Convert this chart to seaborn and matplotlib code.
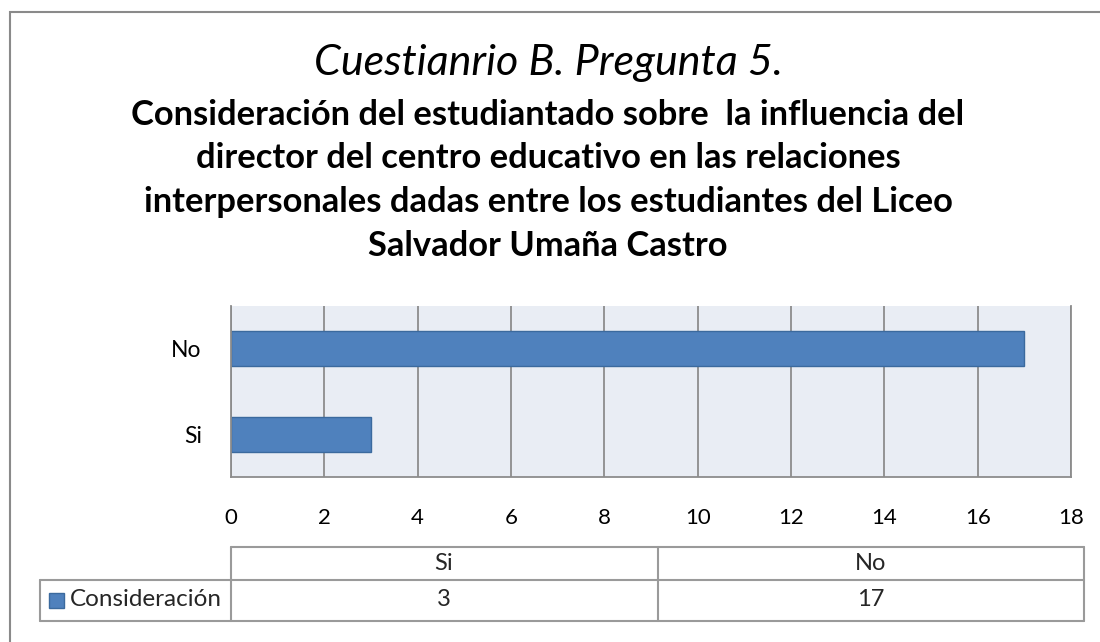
import matplotlib
matplotlib.use("Agg")
import matplotlib.pyplot as plt
import seaborn as sns
import pandas as pd
from matplotlib.patches import Rectangle
from matplotlib.lines import Line2D

# Chart data
categories = ["Si", "No"]
values = [3, 17]
series_name = "Consideración"
bar_order = ["No", "Si"]
x_ticks = [0, 2, 4, 6, 8, 10, 12, 14, 16, 18]
title = "Cuestianrio B. Pregunta 5."
subtitle_lines = [
    "Consideración del estudiantado sobre  la influencia del",
    "director del centro educativo en las relaciones",
    "interpersonales dadas entre los estudiantes del Liceo",
    "Salvador Umaña Castro",
]

df = pd.DataFrame({"Respuesta": categories, series_name: values})

sns.set_theme(style="white")
plt.rcParams["font.family"] = ["Lato", "DejaVu Sans"]

W, H = 1100, 642
fig = plt.figure(figsize=(11, 6.42), dpi=100)


def fx(x):
    return x / W


def fy(y):
    return 1 - y / H


BAR = "#4F81BD"
GRID = "#8C8C8C"

# plot area
ax = fig.add_axes([fx(231), fy(477), (1071 - 231) / W, (477 - 306) / H])
sns.barplot(data=df, y="Respuesta", x=series_name, order=bar_order, orient="h",
            color=BAR, saturation=1, width=0.41, edgecolor="#3B6A9E",
            linewidth=1, ax=ax)
ax.set_facecolor("#E9EDF4")
ax.set_xlim(0, 18)
ax.set_xticks(x_ticks)
ax.grid(axis="x", color=GRID, linewidth=1.3)
ax.grid(axis="y", visible=False)
ax.set_axisbelow(True)
ax.set_xlabel("")
ax.set_ylabel("")
for side in ["left", "bottom", "right"]:
    ax.spines[side].set_color(GRID)
    ax.spines[side].set_linewidth(1.3)
ax.spines["top"].set_visible(False)
ax.tick_params(axis="x", length=0, pad=22, labelsize=16, labelcolor="black")
ax.tick_params(axis="y", length=0, pad=21, labelsize=16.5, labelcolor="black")

# titles
fig.text(fx(548), fy(63), title, ha="center", va="center", fontsize=31,
         style="italic", color="black")
for i, line in enumerate(subtitle_lines):
    fig.text(fx(548), fy(115 + i * 43.5), line, ha="center", va="center",
             fontsize=24.8, fontweight="bold", color="black")

# data table
tcol = "#9A9A9A"
lw = 1.5


def hline(x0, x1, y):
    fig.add_artist(Line2D([fx(x0), fx(x1)], [fy(y), fy(y)], color=tcol, lw=lw))


def vline(x, y0, y1):
    fig.add_artist(Line2D([fx(x), fx(x)], [fy(y0), fy(y1)], color=tcol, lw=lw))


hline(231, 1084, 547)
hline(40, 1084, 580)
hline(40, 1084, 621)
vline(231, 547, 621)
vline(658, 547, 621)
vline(1084, 547, 621)
vline(40, 580, 621)

col_centers = [444, 871]
for cx, cat, val in zip(col_centers, categories, values):
    fig.text(fx(cx), fy(564), cat, ha="center", va="center", fontsize=17)
    fig.text(fx(cx), fy(600), str(val), ha="center", va="center", fontsize=17)

fig.add_artist(Rectangle((fx(49), fy(608)), 15 / W, 15 / H, transform=fig.transFigure,
                         facecolor=BAR, edgecolor="#3B6A9E", lw=1))
fig.text(fx(70), fy(600), series_name, ha="left", va="center", fontsize=17.5)

# outer border
fig.add_artist(Rectangle((fx(10), fy(660)), 1100 / W, 648 / H, transform=fig.transFigure,
                         facecolor="none", edgecolor="#8A8A8A", lw=1.5))

fig.savefig("out.png", dpi=100)
